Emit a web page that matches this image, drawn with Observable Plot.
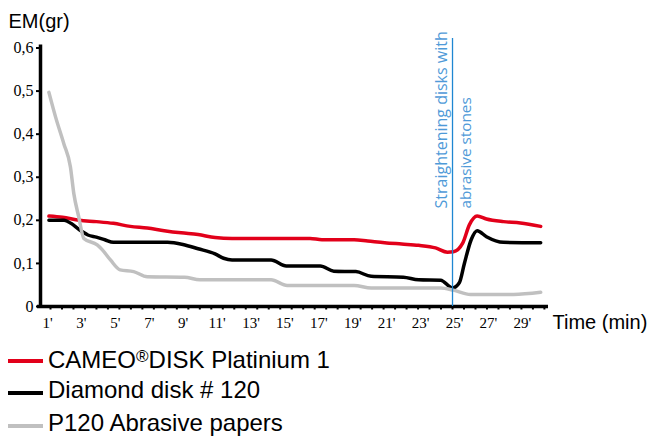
<!DOCTYPE html>
<html>
<head>
<meta charset="utf-8">
<script src="https://cdn.jsdelivr.net/npm/d3@7"></script>
<script src="https://cdn.jsdelivr.net/npm/@observablehq/plot@0.6"></script>
<style>
  html, body { margin: 0; padding: 0; background: #fff; }
  body { position: relative; width: 651px; height: 439px; overflow: hidden; }
  #chart { position: absolute; left: 0; top: 0; }
  #legend { position: absolute; left: 0; top: 0; width: 651px; font-family: "Liberation Sans", Arial, sans-serif; font-size: 24px; color: #000; }
  .sw { position: absolute; left: 8px; width: 35px; height: 4px; }
  .lb { position: absolute; left: 48px; line-height: 24px; white-space: nowrap; }
  .reg { font-size: 17px; vertical-align: 6px; }
</style>
</head>
<body>
<div id="chart"></div>
<div id="legend"></div>
<script>
// ---- data (minutes, EM in grams) ----
const redT   = [1.2, 2, 3, 4, 5, 6, 7, 8, 9, 10, 11, 12, 14, 16.6, 17.3, 19.2, 20, 21, 22, 23, 24, 24.7, 25.05, 25.6, 26, 26.45, 27, 28, 29, 30.2];
const redV   = [0.21, 0.207, 0.2, 0.197, 0.193, 0.186, 0.182, 0.176, 0.171, 0.167, 0.16, 0.158, 0.158, 0.158, 0.155, 0.155, 0.152, 0.148, 0.145, 0.142, 0.136, 0.126, 0.127, 0.147, 0.19, 0.21, 0.203, 0.197, 0.194, 0.186];
const blackT = [1.2, 2.1, 2.5, 3, 3.5, 4, 4.5, 5, 8.2, 9.1, 10, 11, 11.5, 12, 14.3, 15.2, 17.2, 18, 19.3, 20.2, 22.1, 23, 24.3, 25, 25.4, 25.7, 26.1, 26.45, 27, 28, 30.2];
const blackV = [0.2, 0.2, 0.193, 0.178, 0.166, 0.161, 0.155, 0.149, 0.149, 0.144, 0.134, 0.122, 0.112, 0.108, 0.108, 0.094, 0.094, 0.082, 0.081, 0.07, 0.068, 0.062, 0.061, 0.043, 0.055, 0.1, 0.155, 0.176, 0.162, 0.149, 0.148];
const grayT  = [1.2, 1.6, 2.08, 2.47, 2.67, 2.96, 3.26, 4.05, 4.34, 4.83, 5.4, 6.2, 7, 9.2, 10.1, 14.3, 15.25, 19.2, 20.2, 24.3, 25.05, 26.06, 28.6, 30.2];
const grayV  = [0.497, 0.439, 0.378, 0.324, 0.262, 0.208, 0.158, 0.143, 0.132, 0.108, 0.085, 0.081, 0.069, 0.068, 0.062, 0.062, 0.049, 0.049, 0.043, 0.043, 0.038, 0.028, 0.028, 0.033];

const seriesNames  = ["CAMEO®DISK Platinium 1", "Diamond disk # 120", "P120 Abrasive papers"];
const seriesColors = ["#e2001a", "#000000", "#c0c0c0"];
const xTickLabels  = [1, 3, 5, 7, 9, 11, 13, 15, 17, 19, 21, 23, 25, 27, 29];
const yTicks       = [0, 0.1, 0.2, 0.3, 0.4, 0.5, 0.6];
const eventTime    = 25;
const eventLines   = ["Straightening disks with", "abrasive stones"];

const rows = [];
[[redT, redV], [blackT, blackV], [grayT, grayV]].forEach(([T, V], s) => {
  T.forEach((t, i) => rows.push({series: seriesNames[s], t, v: V[i]}));
});
const minorTicks = d3.range(0, 44).map(k => eventTime - 0.6773 * (35 - k));
const serif = "Liberation Serif, serif";

const W = 651, H = 341;
const chart = Plot.plot({
  width: W, height: H,
  marginLeft: 40, marginRight: 103, marginTop: 47.5, marginBottom: 35,
  style: {fontFamily: serif, fontSize: "15px", color: "#000", background: "#fff"},
  x: {domain: [0.705, 30.66]},
  y: {domain: [0, 0.6]},
  color: {domain: seriesNames, range: seriesColors},
  marks: [
    // axes
    Plot.axisY({ticks: yTicks, tickSize: 4, tickPadding: 3, strokeWidth: 2, label: null,
      tickFormat: d => d === 0 ? "0" : d.toFixed(1).replace(".", ","), fontSize: 16, fontFamily: serif}),
    Plot.axisX({ticks: minorTicks, tickSize: 3.5, strokeWidth: 2, text: null, label: null}),
    Plot.axisX({ticks: xTickLabels, tickSize: 0, tickPadding: 11, dx: 2, label: null,
      tickFormat: d => d + "'", fontSize: 15, fontFamily: serif}),
    Plot.ruleY([0], {x1: 0.53, x2: 30.66, stroke: "#000", strokeWidth: 3.5}),
    Plot.ruleX([0.705], {y1: 0, y2: 0.607, stroke: "#000", strokeWidth: 3.5}),
    // series
    Plot.line(rows, {x: "t", y: "v", z: "series", stroke: "series", strokeWidth: 3.5, curve: "monotone-x"}),
    // event line + annotation
    Plot.ruleX([eventTime], {y1: 0, y2: 0.622, stroke: "#1f87d2", strokeWidth: 1.3}),
    Plot.text([eventLines[0]], {x: () => eventTime, y: () => 0.2275, rotate: -90, textAnchor: "start", lineAnchor: "bottom",
      dx: -6, fill: "#4f9ad8", fontFamily: "Open Sans", fontSize: 16}),
    Plot.text([eventLines[1]], {x: () => eventTime, y: () => 0.2275, rotate: -90, textAnchor: "start", lineAnchor: "bottom",
      dx: 18, fill: "#4f9ad8", fontFamily: "Open Sans", fontSize: 15.3}),
    // axis titles
    Plot.text(["EM(gr)"], {frameAnchor: "top-left", textAnchor: "start", lineAnchor: "bottom", dx: -32, dy: -20.5,
      fontFamily: "Liberation Sans", fontSize: 20, fill: "#000"}),
    Plot.text(["Time (min)"], {frameAnchor: "bottom-right", textAnchor: "start", lineAnchor: "bottom", dx: 4, dy: 22,
      fontFamily: "Liberation Sans", fontSize: 20, fill: "#000"})
  ]
});
document.getElementById("chart").appendChild(chart);

const legend = document.getElementById("legend");
const labelTops  = [344.7, 378, 411.4];
const swatchTops = [358.7, 390.7, 424];
seriesNames.forEach((name, i) => {
  const sw = document.createElement("div");
  sw.className = "sw";
  sw.style.background = seriesColors[i];
  sw.style.top = swatchTops[i] + "px";
  const lb = document.createElement("div");
  lb.className = "lb";
  lb.style.top = labelTops[i] + "px";
  if (name.includes("®")) {
    const [a, b] = name.split("®");
    lb.append(a);
    const r = document.createElement("span"); r.className = "reg"; r.textContent = "®";
    lb.append(r, b);
  } else lb.textContent = name;
  legend.append(sw, lb);
});
</script>
</body>
</html>
